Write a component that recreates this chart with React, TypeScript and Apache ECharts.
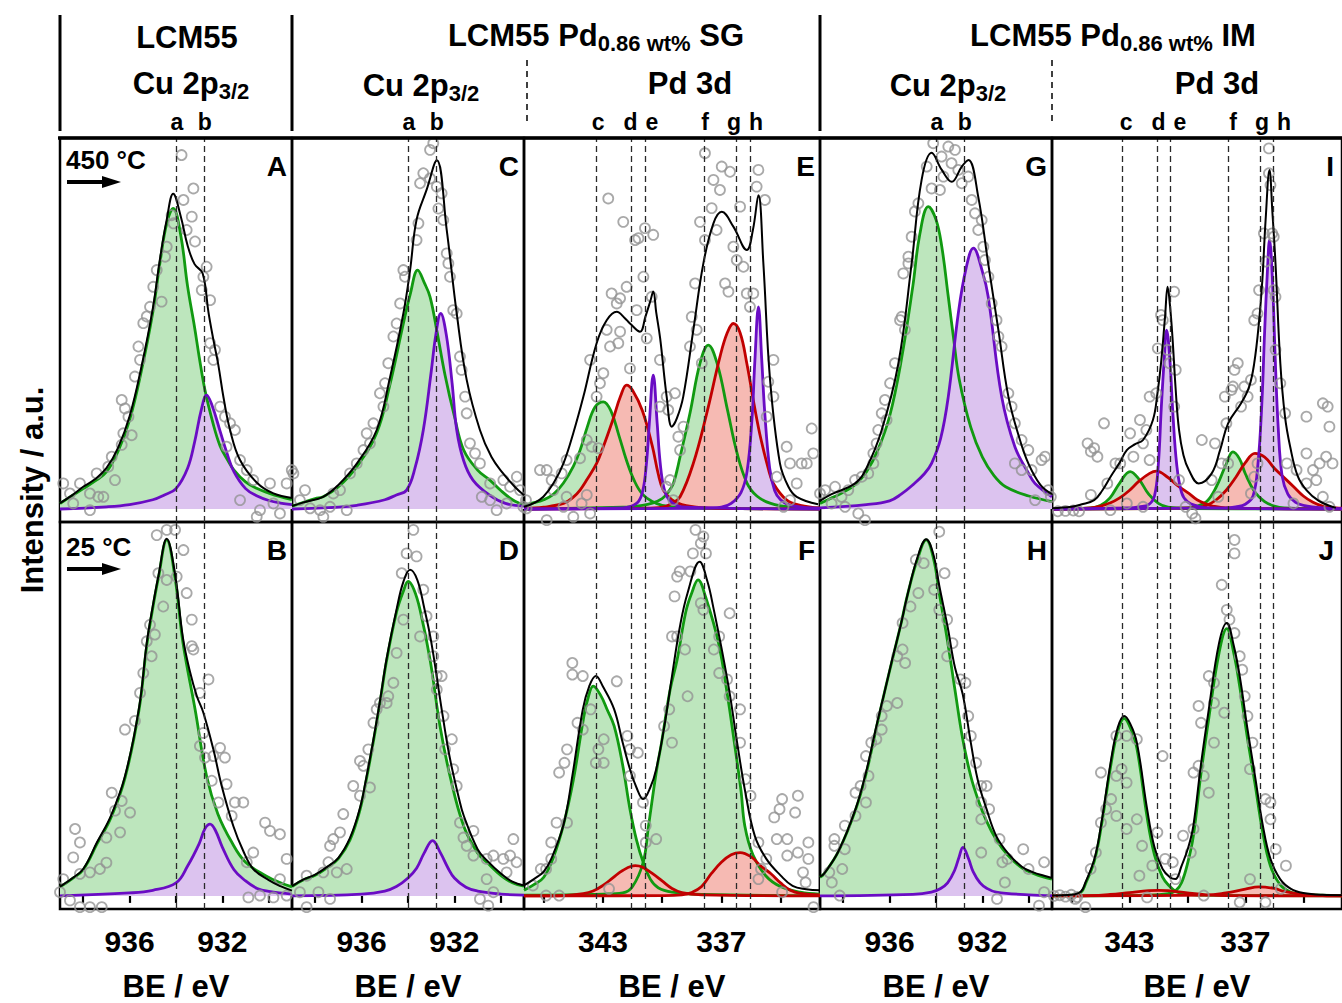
import React, { useEffect, useRef } from "react";
import * as echarts from "echarts";

const FONT = "'Liberation Sans', Arial, sans-serif";

// ---------- axes / labels ----------
const CU_RANGE = [929, 939];
const PD_RANGE = [332, 347];
const CU_TICKS = [930, 932, 934, 936, 938];
const CU_LABELS = [932, 936];
const PD_TICKS = [334, 337, 340, 343, 346];
const PD_LABELS = [337, 343];
const CU_MARKS = ["a", "b"];
const CU_MARK_BE = [934.0, 932.8];
const PD_MARKS = ["c", "d", "e", "f", "g", "h"];
const PD_MARK_BE = [343.35, 341.55, 340.87, 337.87, 336.23, 335.55];
const TEMPS = ["450 °C", "25 °C"];

// ---------- Panel A (LCM55, 450 °C) ----------
const A_green = [[939,1.5],[938.5,3.5],[938,5.5],[937.5,7.5],[937,10],[936.5,15.5],[936,24],[935.5,37],[935,53],[934.7,66],[934.4,77],[934.12,81],[933.8,74],[933.5,60],[933.2,49],[933,41],[932.75,32],[932.4,23],[932.1,17],[931.8,13.5],[931.5,10.5],[931,7.3],[930.5,5.5],[930,4.3],[929.5,3.3],[929,2.5]];
const A_purple = [[939,0],[937,0.6],[936,1.2],[935,2.5],[934.5,3.8],[934,5.5],[933.5,11],[933.2,18],[932.9,27],[932.68,30.7],[932.45,28],[932.1,21],[931.8,15],[931.5,10],[931,5.5],[930.5,3.5],[930,2.3],[929.5,1.6],[929,1.2]];
const A_fit = [[939,1.6],[938.5,3.6],[938,6],[937.5,8],[937,11],[936.5,16.5],[936,25],[935.5,38],[935,54],[934.7,67],[934.4,78],[934.12,85],[933.8,79],[933.5,71],[933.2,66],[932.85,63.5],[932.6,53],[932.4,46],[932.18,39],[931.95,30],[931.67,21.3],[931.24,13.2],[930.5,7],[929.8,4.2],[929,3]];
const A_pts = [[933.76,95.4],[933.25,86.4],[933.68,83.3],[933.32,78.8],[934.19,79.2],[934.11,77],[933.54,75.2],[933.18,72.1],[934.4,70.7],[934.47,68],[932.68,65.3],[932.82,62.6],[932.89,59],[932.53,56.3],[934.83,64.4],[934.98,59.9],[935.12,54.5],[934.62,55.9],[935.26,51.9],[935.41,50.1],[935.62,43.8],[935.55,40.2],[935.77,35.7],[932.53,44.7],[932.32,42.9],[932.39,40.2],[932.1,27.6],[931.89,24.9],[931.67,23.1],[931.46,21.3],[936.34,29.4],[936.2,27.1],[936.05,24.9],[936.27,20.4],[936.34,17.3],[935.91,19.9],[936.77,14.1],[936.92,11.4],[936.63,7.8],[937.42,9.6],[937.35,3.3],[937.71,4.2],[938.14,6.9],[938.86,6.9],[938.57,4.2],[938.43,1.5],[937.71,-0.3],[937.13,3.3],[931.24,13.2],[930.95,10.5],[930.67,7.8],[929.95,6.9],[929.23,6.9],[929.8,1.5],[930.38,-0.3],[929.52,-1.2],[930.52,-2.1],[931.82,16.8],[931.24,2.4],[929.01,10.5]];

// ---------- Panel B (LCM55, 25 °C) ----------
const B_green = [[939,2.4],[938.5,4.5],[938,7],[937.4,14],[936.8,21],[936.2,31.5],[935.6,49.5],[935.26,67],[935,77],[934.76,85],[934.4,95.2],[934.04,85],[933.7,67.7],[933.18,50],[932.68,32],[932.2,22],[931.6,14.4],[931,9],[930.1,5.3],[929.5,3.5],[929,2.4]];
const B_purple = [[939,0],[936,0.8],[935,1.5],[934,3.5],[933.5,8],[933,14],[932.75,18],[932.53,19.2],[932.3,17.5],[932,13],[931.5,7],[931,4],[930.5,2],[930,1.2],[929,0.5]];
const B_fit = [[939,2.5],[938.5,4.6],[938,7.2],[937.4,14.4],[936.8,21.5],[936.2,32],[935.6,50],[935.26,67.7],[935,77.5],[934.76,85.5],[934.4,95.5],[934.04,86],[933.7,69],[933.4,60],[933.1,53.4],[932.82,49],[932.39,39.2],[932.03,29.4],[931.53,18.7],[931.1,12],[930.67,7.2],[930,4.2],[929.5,2.6],[929,1.4]];
const B_pts = [[934.83,96.5],[934.4,97.9],[934.04,97.9],[933.68,92.5],[933.97,85.4],[934.76,86.3],[934.4,84.5],[934.55,77.4],[933.54,81],[933.32,73.9],[935.12,72.5],[934.91,69.9],[935.26,68.1],[933.32,66.8],[933.25,65.9],[935.05,64.1],[935.41,59.6],[932.6,57.9],[935.55,54.3],[932.97,54.3],[932.82,43.6],[936.2,44.5],[935.77,46.8],[932.97,40.1],[932.1,39.6],[931.89,37],[932.39,37.4],[932.75,37],[932.46,30.8],[931.82,29.9],[932.17,25],[931.46,25],[931.1,25],[931.6,21.4],[936.77,27.6],[936.34,25.4],[936.63,22.8],[935.98,22.3],[937,15.6],[936.41,17],[938.35,17.9],[938.14,14.3],[938.43,10.3],[937,8.9],[937.28,7.2],[937.71,6.3],[938.14,5.9],[938.86,4.5],[939,1],[938.57,-1.2],[938.14,-3],[937.71,-3],[937.2,-3],[930.67,11.6],[930.95,9],[930.16,19.6],[929.95,17.4],[929.52,16.5],[929.23,9.9],[929.52,4.5],[930.88,-0.4],[929.8,-0.4],[929.23,0.1],[930.38,0.1]];

// ---------- Panel C (SG Cu, 450 °C) ----------
const C_green = [[939,0.8],[938.5,1.8],[938,2.8],[937.66,3.3],[937,6],[936.2,11.5],[935.35,20.5],[934.8,33],[934.2,50],[933.9,58],[933.58,64.4],[933.3,61],[933.05,57.2],[932.76,48.2],[932.4,36],[932,25],[931.6,15.9],[931,10.5],[930.47,7.8],[930,5],[929.5,2.5],[929.17,1.5],[929,1.2]];
const C_purple = [[939,0],[937,0.5],[936.2,1],[935,2.5],[934.5,3.8],[934.06,5.1],[933.7,11],[933.34,21.3],[933,37],[932.8,47],[932.59,52.7],[932.35,47],[932.1,34],[931.9,21.3],[931.6,13],[931.2,7.8],[930.5,3.8],[929.8,1.5],[929,0.8]];
const C_fit = [[939,0.8],[938.5,1.8],[937.66,3.3],[937,6.5],[936.2,12.3],[935.35,21.3],[934.8,34.8],[934.2,52.7],[933.91,64.4],[933.63,78],[933.2,86],[932.76,94],[932.33,75.2],[931.9,52.7],[931.47,34.8],[930.9,21.3],[930.4,14],[929.9,9.6],[929.4,6],[929,3.7]];
const C_pts = [[932.91,98.6],[933.05,96.8],[933.34,90.5],[933.48,87.8],[933.05,89.1],[932.76,86.9],[932.55,85.1],[932.69,81],[933.55,77],[933.63,72.5],[932.48,77.9],[932.33,68.9],[932.26,66.2],[932.19,62.6],[934.2,64.4],[934.13,62.6],[934.34,55.4],[932.05,53.6],[931.9,52.7],[934.49,50],[934.63,46.5],[934.85,39.3],[934.99,33.9],[935.21,31.2],[935.06,27.6],[931.76,41.1],[931.69,37.5],[931.54,30.3],[931.47,25.8],[935.49,23.1],[935.78,20.4],[935.92,15.9],[935.64,17.7],[931.33,17.7],[931.11,15],[930.9,12.3],[936.21,12.3],[936.5,9.6],[936.93,5.1],[937.22,4.2],[938.44,5.1],[938.94,9.6],[938.66,2.4],[938.22,0.2],[937.79,-0.3],[937.36,0.6],[937.65,-2.1],[936.64,-0.3],[930.46,6.9],[929.89,7.8],[929.6,6],[929.31,8.7],[929.17,5.1],[929.75,1.5],[930.46,2.4],[929.03,0.6],[930.18,-0.3],[930.82,3.3]];

// ---------- Panel D (SG Cu, 25 °C) ----------
const D_green = [[939,2.5],[938.5,4.3],[938,5.5],[937.5,7.5],[937,10],[936.5,15],[936.07,23],[935.8,31],[935.5,41],[935.2,52],[934.92,63],[934.49,76],[934.2,81.5],[933.99,84.1],[933.75,82],[933.48,76.5],[933.05,63.2],[932.62,45.4],[932.19,32.1],[931.6,18.7],[931,11.5],[930.6,9],[930,5.5],[929.5,3.5],[929,2.6]];
const D_purple = [[939,0],[936,0.5],[935,1.3],[934.5,2.5],[934,4.8],[933.63,7.4],[933.3,11.5],[932.94,14.8],[932.6,11.5],[932.27,7.4],[932,4.8],[931.5,2.3],[931,1.3],[930,0.5],[929,0.2]];
const D_fit = [[939,2.6],[938.5,4.4],[938,5.7],[937.5,7.7],[937,10.2],[936.5,15.5],[936.07,23.5],[935.8,31.5],[935.5,41.5],[935.2,52.5],[934.92,63.5],[934.49,76.7],[934.2,84],[933.91,87.2],[933.6,84.5],[933.3,77],[933,68],[932.5,48],[932.2,37],[931.8,26],[931.6,21.5],[931,12.5],[930.6,9.5],[930,6],[929.5,3.8],[929,2.8]];
const D_pts = [[933.77,97.9],[934.06,91.6],[933.63,90.8],[934.27,86.3],[933.34,81.9],[934.2,73.9],[933.2,74.8],[933.48,69.4],[932.91,69.4],[932.91,64.1],[934.49,65],[934.63,57],[934.85,53.4],[932.76,58.8],[932.55,58.8],[932.76,55.2],[934.92,51.6],[935.21,51.6],[935.35,49.9],[935.49,46.3],[935.71,39.2],[936.07,36.1],[935.92,34.8],[932.47,48.1],[932.4,39.2],[932.11,41.9],[932.05,33.9],[931.9,29.4],[936.36,29.4],[936.07,26.8],[935.64,29],[936.79,21.9],[936.93,17],[937.22,15.2],[937.36,13.4],[937.43,9],[936.64,7.2],[937.07,6.3],[937.65,6.3],[938.37,5.4],[938.66,1],[938.37,-3],[937.86,1],[937.36,-0.8],[931.76,19.6],[931.61,15.6],[931.18,17.4],[931.47,13.4],[931.18,10.8],[930.61,9.9],[930.32,10.8],[929.89,9.9],[929.6,10.8],[929.46,15.2],[929.75,6.3],[930.61,4.5],[930.32,1],[930.9,-0.8],[930.54,-2.6],[929.32,9]];

// ---------- Panel E (SG Pd, 450 °C) ----------
const E_green_c = [[347,1],[346.5,1.7],[346,2.5],[345.5,4],[345,7],[344.5,11.5],[344.16,15.8],[343.8,22],[343.4,27.5],[342.98,28.9],[342.6,26.5],[342.2,20],[341.8,13],[341.4,7.5],[341,4],[340.5,2],[340,1],[339,0.4],[338,0.2],[332,0]];
const E_green_f = [[347,0],[342,0.5],[341,1],[340.5,1.6],[340,2.8],[339.7,4.5],[339.43,6.9],[339.09,14.1],[338.59,25.8],[338.08,39.3],[337.66,44.2],[337.2,39],[336.7,27],[336.2,15],[335.7,7],[335.2,3.5],[334.5,1.5],[333.5,0.5],[332,0.2]];
const E_red_d = [[347,0.2],[346,0.5],[345,1.5],[344.5,3.2],[344.16,5.1],[343.8,8],[343.32,12.3],[343,16.5],[342.5,24],[342.1,30.5],[341.8,33.4],[341.5,32],[341,26.5],[340.5,17],[340.2,9.5],[339.94,5.1],[339.5,2.5],[339,1.2],[338,0.4],[336,0.1],[332,0]];
const E_red_g = [[347,0],[341,0.2],[340,0.5],[339.5,1.5],[339.09,3.3],[338.42,12.3],[337.74,25.8],[337.07,41],[336.7,47.5],[336.39,50],[336.05,47.5],[335.71,39.3],[335.3,27],[335,19],[334.6,10.5],[334.36,6.9],[333.7,2.5],[333,1],[332,0.3]];
const E_purple_e = [[347,0],[342,0.3],[341.3,1.5],[341,4.5],[340.8,12],[340.65,23],[340.45,36.1],[340.25,23],[340.1,12.5],[339.9,5.5],[339.6,2.2],[339,0.6],[332,0]];
const E_purple_h = [[347,0],[338,0.2],[337,0.5],[336.5,1.5],[336,4.5],[335.7,10],[335.45,24],[335.3,40],[335.12,54.5],[334.95,40],[334.8,26],[334.55,11],[334.3,5],[334,2.5],[333.5,1],[332,0.2]];
const E_fit = [[347,0.6],[346.5,1.6],[346.02,3.3],[345.5,7],[345,12.3],[344.5,20.5],[343.99,30.3],[343.32,44.7],[342.81,50.9],[342.3,53.2],[341.9,51.5],[341.63,50],[341.12,47.8],[340.85,51.8],[340.6,56],[340.45,58.6],[340.3,53],[340.1,46],[339.77,30.3],[339.51,22.2],[339.25,24.5],[338.93,30.3],[338.42,48.2],[337.91,66.2],[337.4,77],[336.98,80.1],[336.39,76.1],[335.71,69.8],[335.4,75.2],[335.12,84.6],[334.87,66.2],[334.53,34.8],[334.03,12.3],[333.6,6],[333.18,3.3],[332.1,1.3]];
const E_pts = [[337.83,95.9],[336.98,92.3],[336.56,90.9],[335.12,91.4],[337.4,88.7],[337.07,86],[336.05,81.5],[335.21,86.9],[334.79,83.3],[342.73,83.7],[341.97,77.4],[341.37,72.5],[341.2,73],[340.87,75.7],[340.45,73.9],[340.95,62.6],[338.08,77.4],[337.83,72.5],[337.49,81.1],[337.24,75.2],[336.39,70.7],[336.22,67.1],[336.81,60.8],[336.64,58.6],[335.88,65.3],[335.71,58.1],[335.55,54.5],[335.38,58.1],[342.56,58.1],[342.13,56.8],[341.8,59.9],[342.3,55.4],[342.81,48.3],[342.13,47.8],[341.63,37.9],[340.78,46],[340.53,57.2],[343.65,40.2],[342.64,43.8],[343.15,33.9],[342.98,36.6],[343.32,30.3],[342.22,44.7],[341.29,53.6],[340.11,40.2],[339.35,31.2],[339.77,30.3],[339.69,26.7],[340.11,27.6],[338.5,51.8],[338.33,60.8],[338.59,43.8],[338.25,48.3],[337.99,39.3],[334.36,40.2],[334.62,34.3],[334.36,30.3],[334.7,24.9],[338.92,22.2],[339.18,19.5],[339.09,15.9],[343.82,18.6],[343.57,16.8],[343.23,16.4],[344.16,13.7],[344.84,13.2],[345.09,9.6],[345.85,10.5],[346.19,10.5],[345.6,7.8],[345.51,5.1],[345,0.6],[344.84,3.3],[344.5,-2.1],[344.08,1.5],[343.82,3.8],[332.42,21.7],[332.34,15],[332.93,12.3],[332.67,12.3],[333.69,16.8],[333.52,12.3],[333.18,6.9],[333.52,2.4],[334.19,8.7],[333.85,0.6],[332,4.2],[339.6,7.8],[339.77,6],[339.43,2.4],[346.9,2.4],[346.87,0.2],[345.85,-3],[343.65,-1.2]];

// ---------- Panel F (SG Pd, 25 °C) ----------
const F_green_c = [[347,1.5],[346.5,3],[346,5],[345.5,10.5],[345,19],[344.5,31],[344,47],[343.75,53],[343.49,56.1],[343.1,53.5],[342.8,50],[342.43,45.4],[342,35],[341.63,23.2],[341.3,15],[340.96,9],[340.6,4.5],[340.2,2.2],[339.5,1],[338,0.4],[332,0.1]];
const F_green_f = [[347,0.2],[343,0.5],[342,0.8],[341.5,2.5],[340.96,9],[340.69,18.7],[340.3,33],[340.03,41],[339.6,55],[339.24,63.2],[338.8,76],[338.5,81],[338.18,84.5],[337.8,80],[337.14,67.6],[336.7,54],[336.34,41],[336,28],[335.81,18.7],[335.4,11],[334.75,5.4],[334,2.5],[333,1],[332,0.5]];
const F_red_d = [[347,0],[345,0.1],[344,0.6],[343.5,1.3],[343,2.8],[342.5,4.8],[342,6.8],[341.36,8.1],[341,7.7],[340.5,6],[340,4],[339.5,2],[339,0.9],[338,0.3],[332,0]];
const F_red_g = [[347,0],[340,0.1],[339,0.3],[338.5,0.9],[338,2.5],[337.5,6],[337,9],[336.5,11],[336.05,11.6],[335.5,10.5],[335,8],[334.5,6],[334,3.5],[333.5,1.5],[333,0.7],[332,0.3]];
const F_fit = [[347,2.8],[346.5,4.5],[346,6.5],[345.62,9.9],[345,19],[344.55,32.1],[344.02,49.9],[343.7,56],[343.36,58.8],[343,56],[342.43,49.9],[342,41],[341.63,33.9],[341.3,29],[340.96,25.9],[340.6,29],[340.3,33.9],[339.9,45],[339.5,58.8],[339.1,72],[338.71,81],[338.1,89.4],[337.7,84],[337.38,76.5],[336.98,66],[336.58,54.3],[336.2,41],[335.78,27.6],[335.3,16],[334.72,9.9],[334,5.5],[333.39,2.7],[332.7,1.8],[332,1.5]];
const F_pts = [[338.31,97.9],[337.91,96.1],[338.04,94.3],[338.44,91.6],[337.78,91.6],[339.11,86.8],[338.57,86.8],[339.24,85.4],[338.04,78.3],[337.91,76.5],[339.37,80.1],[336.58,75.6],[337.11,69.4],[337.38,65.9],[339.24,69.4],[339.5,69.4],[338.84,65.9],[339.64,49.9],[339.5,41],[339.9,45.4],[338.71,53.4],[337.11,59.6],[336.71,57.9],[336.58,53.4],[336.05,49.9],[336.05,41],[335.78,31.2],[335.52,26.8],[344.55,62.3],[344.55,59.2],[344.02,58.8],[342.3,57.4],[343.62,49.9],[344.29,46.3],[344.02,44.5],[342.96,41.9],[343.23,39.2],[343.36,35.6],[342.96,35.6],[341.76,42.8],[341.63,39.2],[341.23,38.3],[341.63,32.1],[340.97,25],[340.83,18.8],[340.83,14.3],[340.3,15.2],[344.82,39.2],[344.95,35.6],[345.22,33],[344.82,19.6],[345.35,19.6],[345.62,14.3],[345.62,9.9],[345.88,7.2],[346.15,7.2],[346.55,2.8],[345.88,0.1],[345.22,0.1],[342.69,1.9],[333.92,25.9],[334.05,23.2],[334.32,21],[333.12,26.8],[333.26,22.3],[334.19,15.2],[335.12,14.3],[334.72,9.9],[333.66,15.2],[333.66,10.8],[333.12,11.6],[332.59,14.3],[332.59,9.9],[332.86,6.3],[332.73,3.6],[332.33,-3],[334.99,7.2],[333.92,1],[335.12,4.5]];

// ---------- Panel G (IM Cu, 450 °C) ----------
const G_green = [[939,1.5],[938.5,3],[938,4.5],[937.5,6.5],[937,10],[936.5,16],[936,25],[935.5,40],[935,60],[934.7,74],[934.33,81.5],[934,78],[933.75,70.7],[933.47,57.2],[933.25,46.4],[933,35],[932.5,22],[932,14],[931.5,9],[931,6],[930,3.5],[929,2]];
const G_purple = [[939,0.3],[937,1.2],[936,2.2],[935.5,4],[935,6.5],[934.5,9.5],[934.19,12.3],[933.8,19],[933.47,30.3],[933.04,52.7],[932.7,65],[932.39,70.3],[932,64],[931.75,57.2],[931.17,30.3],[930.6,16.8],[930,9.5],[929.73,6.9],[929,3.3]];
const G_fit = [[939,2.2],[938.5,4],[937.49,6.9],[937,11],[936.34,21.3],[935.62,39.3],[935.05,66.2],[934.62,88.7],[934.19,96],[933.75,91.4],[933.32,88.2],[932.89,92.3],[932.6,94.1],[932.18,84.2],[931.75,66.2],[931.31,48.2],[930.88,30.3],[930.4,19],[930.02,12.3],[929.5,6.5],[929,4]];
const G_pts = [[934.12,98.6],[933.47,97.7],[933.18,96.8],[933.76,95],[933.33,93.2],[933.04,91.4],[934.4,92.3],[933.68,89.6],[932.89,87.8],[932.61,89.6],[934.19,86.4],[933.83,86],[932.46,83.3],[934.76,82.4],[934.91,80.2],[932.32,79.7],[932.18,75.2],[932.03,77.9],[931.96,70.7],[931.89,67.1],[935.05,73.4],[935.19,68],[931.74,62.6],[931.6,55.4],[935.19,66.2],[935.41,63.5],[935.48,51.8],[935.34,48.3],[935.55,50.9],[931.39,50.9],[931.31,46.5],[931.17,43.8],[935.77,39.3],[935.98,33.9],[936.2,29.4],[936.34,25.8],[936.13,24],[936.49,21.3],[936.56,17.7],[936.7,15],[936.7,12.3],[936.92,9.6],[937.2,8.7],[937.49,7.8],[937.78,5.1],[938.07,3.3],[938.35,6],[938.78,5.1],[938.5,1.5],[937.92,0.6],[937.35,-1.2],[937.06,-3],[930.88,31.2],[930.74,27.6],[930.6,23.1],[930.31,18.6],[930.02,15.9],[930.6,12.3],[930.31,10.5],[929.88,10.5],[929.45,13.2],[929.3,14.1],[929.16,5.1],[929.73,2.4],[929.05,3.3]];

// ---------- Panel H (IM Cu, 25 °C) ----------
const H_green = [[939,5],[938.83,5.9],[938.2,12],[937.47,23],[937,33],[936.57,45],[936.2,55],[935.89,63],[935.5,73],[935.21,81],[934.8,90],[934.42,95.2],[934.1,90],[933.86,81],[933.5,68],[933.18,55],[932.85,42],[932.5,32],[932.2,26],[931.82,20],[931.4,15],[930.92,11],[930.3,7.5],[929.8,6],[929.34,5],[929,4.5]];
const H_purple = [[939,0],[935,0.4],[934.2,1],[933.8,2],[933.5,3.5],[933.2,6.8],[933,10.5],[932.84,13],[932.6,10],[932.4,6.5],[932.1,3.5],[931.8,2],[931.4,1],[930,0.3],[929,0.1]];
const H_fit = [[939,5.2],[938.83,5.9],[938.2,12],[937.47,23.2],[937,33.5],[936.57,45.4],[936.2,55],[935.89,63.2],[935.5,73],[935.21,81],[934.8,90.5],[934.42,95.4],[934.1,91],[933.86,83],[933.5,72],[933.18,61],[932.85,54],[932.5,41],[932.2,31],[931.82,23.2],[931.4,16],[930.92,11.6],[930.3,7.8],[929.8,6.3],[929.34,5.4],[929,4.8]];
const H_pts = [[933.86,97.4],[934.87,89.9],[934.53,89],[934.08,81.9],[933.63,86.3],[934.76,81],[935.1,77.4],[933.86,76.5],[933.52,73.9],[935.44,73],[935.44,65.9],[935.67,64.1],[935.33,62.3],[933.29,67.6],[933.52,64.1],[932.95,57.9],[932.73,57],[932.61,48.1],[932.5,42.8],[935.67,51.6],[936.12,50.8],[936.34,48.1],[936.34,44.5],[936.57,41.9],[936.79,41],[937.02,37.4],[932.27,35.6],[932.05,29.4],[931.82,29.4],[932.05,25],[931.71,23.2],[932.05,20.5],[936.91,32.1],[937.25,29.4],[937.47,27.6],[937.02,25],[937.47,21.4],[937.93,18.8],[938.38,15.2],[938.38,13.4],[937.93,12.5],[938.04,7.2],[938.6,6.3],[938.49,3.6],[932.05,11.6],[931.26,15.2],[930.92,9.9],[931.14,9],[931.03,3.6],[931.37,-0.8],[930.24,12.5],[930.01,7.2],[929.34,9],[929.56,-2.6],[929.34,1],[938.15,0.1]];

// ---------- Panel I (IM Pd, 450 °C) ----------
const I_green_c = [[347,0],[345,0.3],[344.48,1],[344,3],[343.5,7],[342.96,10.1],[342.5,8],[342,4],[341.5,1.5],[341,0.5],[340,0.1],[332,0]];
const I_green_f = [[347,0],[340,0.3],[339.5,0.8],[339,2],[338.5,6],[338,12],[337.64,15.4],[337.3,13.5],[337,9.5],[336.5,4.5],[336,2],[335.5,0.8],[335,0.3],[332,0]];
const I_red_d = [[347,0],[345,0.3],[344.48,0.8],[344,1.6],[343.5,3],[343,5],[342.5,7.5],[341.95,9.6],[341.6,10.2],[341,8.5],[340.5,6.3],[339.92,4.2],[339.5,2.5],[339,1.3],[338.7,0.8],[338,0.3],[332,0]];
const I_red_g = [[347,0],[339.5,0.3],[339,1],[338.5,2.5],[338,5],[337.5,8.5],[337,12.5],[336.5,15],[336,14],[335.5,11],[335,8.5],[334.5,6],[334,3.5],[333.5,1.8],[333,0.8],[332.3,0.3],[332,0.2]];
const I_purple_e = [[347,0],[343,0.3],[342.5,0.6],[342,1.2],[341.7,3.5],[341.5,12],[341.35,27],[341.2,40],[341.07,48.2],[340.9,40],[340.75,26],[340.55,12],[340.3,4.5],[340,2],[339.5,0.8],[339,0.3],[332,0]];
const I_purple_h = [[347,0],[338,0.3],[337.5,0.6],[337,1.3],[336.6,3.5],[336.35,12],[336.15,28],[336,48],[335.85,65],[335.75,72.5],[335.6,62],[335.45,40],[335.3,22],[335.1,9],[334.8,4],[334.4,1.8],[334,1],[333,0.3],[332,0.1]];
const I_fit = [[347,0.2],[346,0.6],[345.5,1.2],[344.82,2.4],[344.4,5],[343.97,8.7],[343.5,12.5],[343.13,15.9],[342.7,17.5],[342.29,18.6],[341.78,24],[341.55,31],[341.36,39.3],[341.15,52],[341.02,59.9],[340.9,55],[340.77,46.4],[340.6,32],[340.43,21.3],[340.2,14.5],[339.92,10.5],[339.41,6.9],[338.74,9.6],[338.3,16],[337.89,23.1],[337.22,28.5],[336.8,33],[336.54,39.3],[336.3,50],[336.12,61.7],[335.95,78],[335.75,91.4],[335.6,80],[335.44,66.2],[335.19,39.3],[334.95,25],[334.68,16.8],[334.3,9],[333.84,5.1],[333.2,2.2],[332.32,0.3]];
const I_pts = [[335.78,97.2],[335.78,90.5],[335.7,87.3],[335.61,74.3],[335.53,73.4],[336.04,74.3],[335.95,66.7],[335.53,59],[335.44,57.2],[336.29,59],[336.37,52.7],[336.54,50.9],[340.68,58.6],[341.36,52.3],[341.27,50.9],[341.02,42.9],[341.53,43.3],[340.93,39.3],[340.6,37.5],[340.68,27.6],[341.61,31.2],[341.95,30.3],[342.45,24],[342.12,21.3],[342.29,17.7],[342.96,20.4],[342.79,14.1],[343.47,12.3],[343.72,12.3],[344.31,23.1],[345.16,17.7],[344.99,15.5],[344.65,14.1],[344.82,16.4],[344.99,3.8],[344.14,6.9],[343.98,-0.3],[343.13,1.5],[342.29,0.6],[341.95,13.2],[340.43,7.8],[340.09,0.6],[339.75,-1.2],[339.58,-2.5],[339.25,18.6],[338.57,17.7],[338.23,12.3],[338.74,7.8],[338.4,3.3],[337.89,12.3],[337.98,23.1],[337.72,32.1],[337.56,37.5],[337.39,39.3],[337.64,33],[337.05,33],[336.88,30.3],[336.71,34.8],[337.22,27.6],[338.06,30.3],[336.37,12.3],[336.54,8.7],[336.71,4.2],[335.19,33.9],[335.44,42.9],[334.94,25.8],[334.85,12.3],[334.35,10.5],[334.51,1.5],[333.84,24.9],[333.84,15],[333.5,10.5],[333.33,7.8],[332.99,28.5],[332.74,27.6],[332.65,22.2],[332.82,14.1],[332.49,12.3],[333.16,12.3],[333.84,6.9],[332.99,3.3],[332.65,0.6],[346.7,-0.6],[346.3,-0.5],[345.9,-0.4],[345.6,-0.6]];

// ---------- Panel J (IM Pd, 25 °C) ----------
const J_green_c = [[347,0],[346,0.2],[345.5,1],[345.27,3.2],[344.8,9.5],[344.47,18],[343.94,35.5],[343.6,44],[343.27,47.5],[342.95,45],[342.61,39.5],[342.08,21],[341.7,11],[341.28,5],[340.9,2.5],[340.6,1.2],[340.2,0.6],[339.5,0.2],[332,0]];
const J_green_f = [[347,0],[342,0.2],[341,0.6],[340.6,1.4],[340.3,3.5],[339.95,9.5],[339.69,16],[339.3,32.5],[338.89,47.5],[338.36,65],[337.96,71.5],[337.6,65],[337.29,56],[336.9,42.5],[336.5,30],[336.1,17],[335.7,8],[335.2,3],[334.64,1],[334,0.4],[332,0.1]];
const J_red_d = [[347,0],[345,0.1],[344,0.4],[343,0.9],[342,1.4],[341.5,1.5],[341,1.4],[340,0.8],[339,0.3],[338,0.1],[332,0]];
const J_red_g = [[347,0],[339,0.2],[338,0.8],[337,1.8],[336.3,2.4],[335.5,2],[335,1.2],[334,0.4],[333,0.1],[332,0]];
const J_fit = [[347,0.1],[346,0.3],[345.5,1.2],[345.27,3.6],[344.8,10],[344.47,18.7],[343.94,36.5],[343.6,45],[343.27,48.1],[342.95,46],[342.61,41],[342.08,23.2],[341.7,13],[341.28,7.2],[340.9,5],[340.62,4.5],[340.3,8],[339.95,13],[339.69,18.7],[339.3,35],[338.89,49.9],[338.36,67.6],[337.96,73],[337.6,67],[337.29,58.8],[336.9,45],[336.5,32.1],[336.1,19],[335.7,9.9],[335.2,4.5],[334.64,1.9],[334,0.8],[333,0.3],[332,0.2]];
const J_pts = [[337.56,95.2],[337.56,91.6],[338.22,83.2],[337.96,76.5],[337.82,73.9],[337.56,70.3],[337.29,64.1],[337.16,60.5],[338.89,58.8],[338.62,57],[339.42,50.8],[339.29,46.3],[338.62,51.6],[338.09,49],[338.62,41],[337.03,53.4],[336.89,48.1],[336.63,41],[336.76,33.9],[335.96,25.9],[335.7,25],[335.7,20.5],[339.42,34.8],[339.68,33],[339.15,32.1],[338.89,27.6],[339.68,17.9],[340.22,16.1],[339.82,11.6],[340.75,9],[341.28,37.4],[341.15,9.9],[341.55,17],[342.61,41.9],[343.14,42.8],[343.67,42.8],[343.4,33.9],[343.67,32.1],[343.14,30.3],[344.47,33],[343.94,25.9],[344.47,19.6],[344.2,23.2],[343.67,21.4],[343.14,17.9],[342.61,20.5],[344.73,11.6],[345,7.2],[342.34,13.4],[341.81,8.1],[342.48,5.4],[340.61,4.5],[334.9,8.1],[335.43,12.5],[335.17,1.9],[335.96,-1.7],[337.29,-1.7],[345.8,-0.8],[342.08,-0.4],[345.27,-3],[339.15,0.1],[336.76,4.5],[346.9,0],[346.6,0.2],[346.3,-0.2],[346,0.3],[345.7,-0.3]];

// ---------- layout ----------
const COL_LEFT = [60, 292, 524, 820, 1052];
const COL_WIDTH = [232, 232, 296, 232, 296];
const ROW_TOP = [138, 522];
const ROW_HEIGHT = [384, 388];
const CU_LABEL_DX = [1, 1];
const PD_LABEL_DX = [2, -1, 7, 1, -2.5, 6];

const STY: Record<string, { line: string; fill: string }> = {
  g: { line: "#119a11", fill: "#bde6bd" },
  r: { line: "#c10000", fill: "#f6bab3" },
  p: { line: "#6a0cc4", fill: "#dcc3ef" },
};

type Panel = {
  letter: string;
  col: number;
  row: number;
  pd: boolean;
  comps: [string, number[][]][];
  fit: number[][];
  pts: number[][];
};

const PANELS: Panel[] = [
  { letter: "A", col: 0, row: 0, pd: false, comps: [["g", A_green], ["p", A_purple]], fit: A_fit, pts: A_pts },
  { letter: "B", col: 0, row: 1, pd: false, comps: [["g", B_green], ["p", B_purple]], fit: B_fit, pts: B_pts },
  { letter: "C", col: 1, row: 0, pd: false, comps: [["g", C_green], ["p", C_purple]], fit: C_fit, pts: C_pts },
  { letter: "D", col: 1, row: 1, pd: false, comps: [["g", D_green], ["p", D_purple]], fit: D_fit, pts: D_pts },
  { letter: "E", col: 2, row: 0, pd: true, comps: [["g", E_green_c], ["g", E_green_f], ["r", E_red_d], ["r", E_red_g], ["p", E_purple_e], ["p", E_purple_h]], fit: E_fit, pts: E_pts },
  { letter: "F", col: 2, row: 1, pd: true, comps: [["g", F_green_c], ["g", F_green_f], ["r", F_red_d], ["r", F_red_g]], fit: F_fit, pts: F_pts },
  { letter: "G", col: 3, row: 0, pd: false, comps: [["g", G_green], ["p", G_purple]], fit: G_fit, pts: G_pts },
  { letter: "H", col: 3, row: 1, pd: false, comps: [["g", H_green], ["p", H_purple]], fit: H_fit, pts: H_pts },
  { letter: "I", col: 4, row: 0, pd: true, comps: [["g", I_green_c], ["g", I_green_f], ["r", I_red_d], ["r", I_red_g], ["p", I_purple_e], ["p", I_purple_h]], fit: I_fit, pts: I_pts },
  { letter: "J", col: 4, row: 1, pd: true, comps: [["g", J_green_c], ["g", J_green_f], ["r", J_red_d], ["r", J_red_g]], fit: J_fit, pts: J_pts },
];

const SMOOTH = 0.4;

function buildOption() {
  const grid: any[] = [];
  const xAxis: any[] = [];
  const yAxis: any[] = [];
  const series: any[] = [];

  PANELS.forEach((p, i) => {
    const bottom = p.row === 1;
    grid.push({
      left: COL_LEFT[p.col],
      top: ROW_TOP[p.row],
      width: COL_WIDTH[p.col],
      height: ROW_HEIGHT[p.row],
      show: true,
      borderColor: "#000",
      borderWidth: 2.5,
      backgroundColor: "transparent",
    });
    const range = p.pd ? PD_RANGE : CU_RANGE;
    xAxis.push({
      gridIndex: i,
      type: "value",
      min: range[0],
      max: range[1],
      inverse: true,
      show: bottom,
      position: "bottom",
      axisLine: { show: false },
      splitLine: { show: false },
      axisTick: {
        show: bottom,
        inside: false,
        length: 7,
        customValues: p.pd ? PD_TICKS : CU_TICKS,
        lineStyle: { color: "#000", width: 2.2 },
      },
      axisLabel: {
        show: bottom,
        customValues: p.pd ? PD_LABELS : CU_LABELS,
        margin: 17,
        fontSize: 30,
        fontWeight: "bold",
        fontFamily: FONT,
        color: "#000",
      },
      name: bottom ? "BE / eV" : "",
      nameLocation: "middle",
      nameGap: 62,
      nameTextStyle: { fontSize: 31, fontWeight: "bold", fontFamily: FONT, color: "#000" },
    });
    yAxis.push({ gridIndex: i, type: "value", min: -3.5, max: 100, show: false, splitLine: { show: false } });

    const order = ["g", "r", "p"];
    const comps = [...p.comps].sort((a, b) => order.indexOf(a[0]) - order.indexOf(b[0]));
    comps.forEach(([k, d]) => {
      series.push({
        type: "line",
        xAxisIndex: i,
        yAxisIndex: i,
        data: d,
        smooth: SMOOTH,
        symbol: "none",
        silent: true,
        z: 2,
        lineStyle: { color: STY[k].line, width: 2.8 },
        areaStyle: { color: STY[k].fill, opacity: 1 },
      });
    });
    series.push({
      type: "scatter",
      xAxisIndex: i,
      yAxisIndex: i,
      data: p.pts,
      symbol: "circle",
      symbolSize: 10,
      silent: true,
      z: 3,
      itemStyle: { color: "rgba(0,0,0,0)", borderColor: "#939393", borderWidth: 1.8 },
    });
    const markBE = p.pd ? PD_MARK_BE : CU_MARK_BE;
    series.push({
      type: "line",
      xAxisIndex: i,
      yAxisIndex: i,
      data: p.fit,
      smooth: SMOOTH,
      symbol: "none",
      silent: true,
      z: 4,
      lineStyle: { color: "#000", width: 2 },
      markLine: {
        silent: true,
        symbol: ["none", "none"],
        lineStyle: { type: [6, 4], color: "#2a2a2a", width: 1.3 },
        label: { show: false },
        emphasis: { disabled: true },
        data: markBE.map((v) => ({ xAxis: v })),
      },
    });
  });

  const txt = (text: string, x: number, y: number, size: number, align = "center", extra: any = {}) => ({
    type: "text",
    x,
    y,
    z: 100,
    style: {
      text,
      fontSize: size,
      fontWeight: "bold",
      fontFamily: FONT,
      fill: "#000",
      align,
      verticalAlign: "middle",
      textAlign: align,
      textVerticalAlign: "middle",
      ...extra,
    },
  });
  const sub = { s: { fontSize: 22, fontWeight: "bold", fontFamily: FONT, fill: "#000", padding: [17, 0, 0, 0] } };

  const graphic: any[] = [];
  [60, 292, 820].forEach((x) =>
    graphic.push({ type: "line", z: 100, shape: { x1: x, y1: 15, x2: x, y2: 131 }, style: { stroke: "#000", lineWidth: 3 } })
  );
  [527, 1052].forEach((x) =>
    graphic.push({ type: "line", z: 100, shape: { x1: x, y1: 60, x2: x, y2: 121 }, style: { stroke: "#000", lineWidth: 1.5, lineDash: [6, 5] } })
  );
  graphic.push({ type: "line", z: 100, shape: { x1: 58, y1: 138, x2: 1342, y2: 138 }, style: { stroke: "#000", lineWidth: 3.5 } });

  graphic.push(txt("LCM55", 187, 37, 31));
  graphic.push(txt("Cu 2p{s|3/2}", 191, 83, 31, "center", { rich: sub }));
  graphic.push(txt("LCM55 Pd{s|0.86 wt%} SG", 596, 35, 31, "center", { rich: sub }));
  graphic.push(txt("Cu 2p{s|3/2}", 421, 85, 31, "center", { rich: sub }));
  graphic.push(txt("Pd 3d", 690, 83, 31));
  graphic.push(txt("LCM55 Pd{s|0.86 wt%} IM", 1113, 35, 31, "center", { rich: sub }));
  graphic.push(txt("Cu 2p{s|3/2}", 948, 85, 31, "center", { rich: sub }));
  graphic.push(txt("Pd 3d", 1217, 83, 31));

  // peak-position letters above the top row, aligned with the dashed lines
  [0, 1, 2, 3, 4].forEach((col) => {
    const pd = col === 2 || col === 4;
    const range = pd ? PD_RANGE : CU_RANGE;
    const marks = pd ? PD_MARKS : CU_MARKS;
    const be = pd ? PD_MARK_BE : CU_MARK_BE;
    const dx = pd ? PD_LABEL_DX : CU_LABEL_DX;
    marks.forEach((m, j) => {
      const x = COL_LEFT[col] + ((range[1] - be[j]) / (range[1] - range[0])) * COL_WIDTH[col] + dx[j];
      graphic.push(txt(m, x, 122, 23));
    });
  });

  PANELS.forEach((p) => {
    const right = Math.min(COL_LEFT[p.col] + COL_WIDTH[p.col], 1342) - (p.col === 4 ? 8 : 5);
    graphic.push(txt(p.letter, right, ROW_TOP[p.row] + 28, 28, "right"));
  });

  TEMPS.forEach((t, r) => {
    const y = ROW_TOP[r] + (r === 0 ? 22 : 25);
    graphic.push(txt(t, 66, y, 26, "left"));
    const ay = y + 22;
    graphic.push({ type: "line", z: 100, shape: { x1: 67, y1: ay, x2: 104, y2: ay }, style: { stroke: "#000", lineWidth: 4 } });
    graphic.push({ type: "polygon", z: 100, shape: { points: [[102, ay - 6], [121, ay], [102, ay + 6]] }, style: { fill: "#000" } });
  });

  graphic.push({
    type: "text",
    x: 32,
    y: 490,
    rotation: Math.PI / 2,
    z: 100,
    style: {
      text: "Intensity / a.u.",
      fontSize: 31,
      fontWeight: "bold",
      fontFamily: FONT,
      fill: "#000",
      align: "center",
      verticalAlign: "middle",
      textAlign: "center",
      textVerticalAlign: "middle",
    },
  });

  return {
    animation: false,
    backgroundColor: "#fff",
    grid,
    xAxis,
    yAxis,
    series,
    graphic,
  };
}

export default function App() {
  const ref = useRef<HTMLDivElement>(null);
  useEffect(() => {
    if (!ref.current) return;
    const chart = echarts.init(ref.current, null, { renderer: "svg" });
    chart.setOption(buildOption() as any);
    return () => chart.dispose();
  }, []);
  return (
    <div
      ref={ref}
      style={{ position: "absolute", left: 0, top: 0, width: 1342, height: 1003, background: "#fff" }}
    />
  );
}
